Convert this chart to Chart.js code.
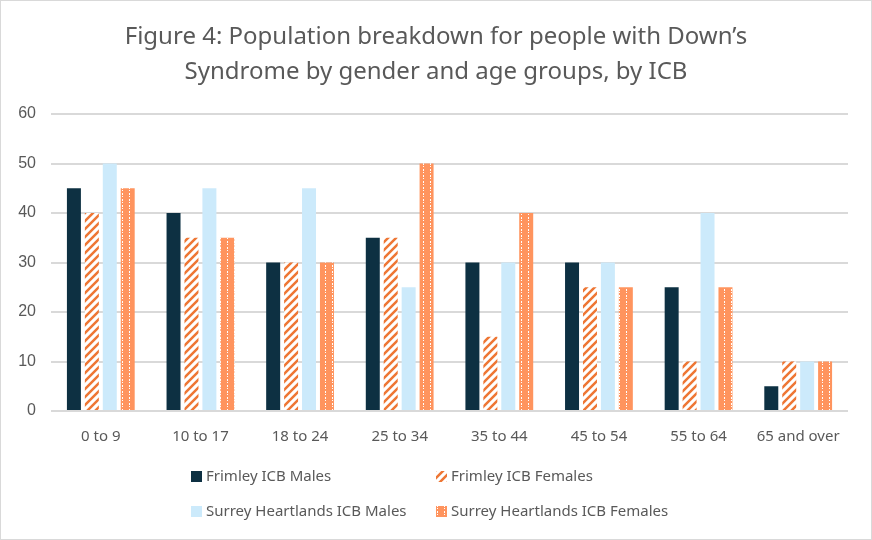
<!DOCTYPE html>
<html>
<head>
<meta charset="utf-8">
<script src="https://cdn.jsdelivr.net/npm/chart.js@4"></script>
<style>
  body { margin: 0; background: #fff; }
  #wrap { width: 870px; height: 538px; border: 1px solid #d9d9d9; position: relative; }
</style>
</head>
<body>
<div id="wrap"><canvas id="chart" width="870" height="538"></canvas></div>
<script>
var ageGroups = ["0 to 9", "10 to 17", "18 to 24", "25 to 34", "35 to 44", "45 to 54", "55 to 64", "65 and over"];
var frimleyMales = [45, 40, 30, 35, 30, 30, 25, 5];
var frimleyFemales = [40, 35, 30, 35, 15, 25, 10, 10];
var surreyMales = [50, 45, 45, 25, 30, 30, 40, 10];
var surreyFemales = [45, 35, 30, 50, 40, 25, 25, 10];
var yTicks = [0, 10, 20, 30, 40, 50, 60];
var titleLines = ["Figure 4: Population breakdown for people with Down\u2019s", "Syndrome by gender and age groups, by ICB"];

var textColor = "#595959";
var fontFamily = "'Noto Sans', 'Open Sans', sans-serif";

// diagonal orange stripes on white
function stripePattern() {
  var c = document.createElement("canvas");
  c.width = 8; c.height = 8;
  var g = c.getContext("2d");
  g.fillStyle = "#ffffff";
  g.fillRect(0, 0, 8, 8);
  g.strokeStyle = "#ee7634";
  g.lineWidth = 2.5;
  g.beginPath();
  g.moveTo(-2, 10); g.lineTo(10, -2);
  g.moveTo(-2, 2); g.lineTo(2, -2);
  g.moveTo(6, 10); g.lineTo(10, 6);
  g.stroke();
  return g.createPattern(c, "repeat");
}

// orange with small white dashes
function dotPattern() {
  var c = document.createElement("canvas");
  c.width = 7; c.height = 6;
  var g = c.getContext("2d");
  g.fillStyle = "#ff945e";
  g.fillRect(0, 0, 7, 6);
  g.fillStyle = "#ffffff";
  g.fillRect(2, 0, 1, 2);
  g.fillRect(2, 3, 1, 1);
  return g.createPattern(c, "repeat");
}

var colors = ["#0d3042", stripePattern(), "#cceafb", dotPattern()];
var names = ["Frimley ICB Males", "Frimley ICB Females", "Surrey Heartlands ICB Males", "Surrey Heartlands ICB Females"];

// title centred on the whole canvas + 2x2 legend at the bottom
var extrasPlugin = {
  id: "extras",
  afterDraw: function (chart) {
    var ctx = chart.ctx;
    ctx.save();
    ctx.fillStyle = textColor;
    ctx.textAlign = "center";
    ctx.textBaseline = "middle";
    ctx.font = "24px " + fontFamily;
    ctx.fillText(titleLines[0], chart.width / 2, 36);
    ctx.fillText(titleLines[1], chart.width / 2, 71);

    var cols = [190, 435];
    var rows = [476, 511];
    ctx.textAlign = "left";
    ctx.font = "15px " + fontFamily;
    for (var i = 0; i < names.length; i++) {
      var x = cols[i % 2];
      var y = rows[Math.floor(i / 2)];
      ctx.fillStyle = colors[i];
      ctx.fillRect(x, y - 6, 11, 11);
      ctx.fillStyle = textColor;
      ctx.fillText(names[i], x + 15, y);
    }
    ctx.restore();
  }
};

new Chart(document.getElementById("chart"), {
  type: "bar",
  data: {
    labels: ageGroups,
    datasets: [
      { label: names[0], data: frimleyMales, backgroundColor: colors[0] },
      { label: names[1], data: frimleyFemales, backgroundColor: colors[1] },
      { label: names[2], data: surreyMales, backgroundColor: colors[2] },
      { label: names[3], data: surreyFemales, backgroundColor: colors[3] }
    ]
  },
  options: {
    responsive: false,
    animation: false,
    categoryPercentage: 0.72,
    barPercentage: 0.78,
    layout: { padding: { left: 10, right: 23, top: 113, bottom: 84 } },
    plugins: {
      legend: { display: false },
      tooltip: { enabled: false },
      title: { display: false }
    },
    scales: {
      x: {
        grid: { display: false },
        border: { display: false },
        ticks: { color: textColor, font: { family: fontFamily, size: 15 }, padding: 9 }
      },
      y: {
        min: 0,
        max: 60,
        afterFit: function (scale) { scale.width = 40; },
        afterBuildTicks: function (scale) {
          scale.ticks = yTicks.map(function (v) { return { value: v }; });
        },
        grid: { color: "#d9d9d9", lineWidth: 2, drawTicks: false },
        border: { display: false },
        ticks: { color: textColor, font: { family: "'Liberation Sans', Arial, sans-serif", size: 16 }, padding: 15 }
      }
    }
  },
  plugins: [extrasPlugin]
});
</script>
</body>
</html>
